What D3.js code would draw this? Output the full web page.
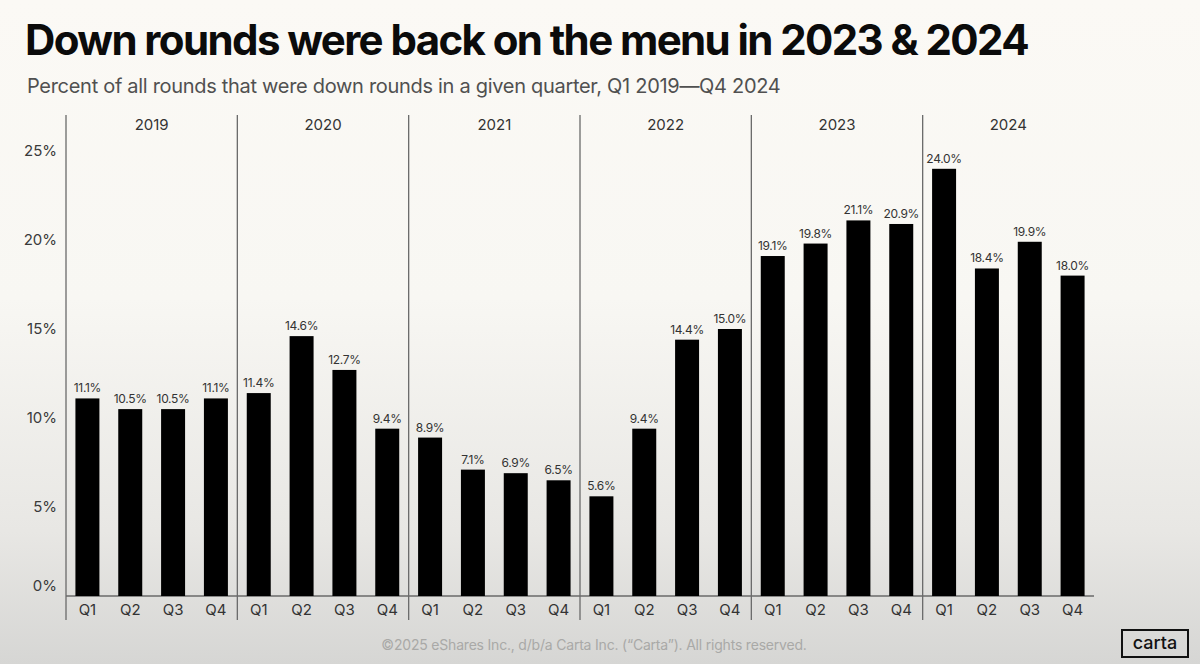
<!DOCTYPE html>
<html>
<head>
<meta charset="utf-8">
<script src="https://cdn.jsdelivr.net/npm/d3@7"></script>
<style>
  html, body { margin: 0; padding: 0; }
  body { width: 1200px; height: 664px; overflow: hidden; font-family: Inter, "Noto Sans", sans-serif; }
</style>
</head>
<body>
<svg id="chart" width="1200" height="664"></svg>
<script>
// data
var years = ['2019', '2020', '2021', '2022', '2023', '2024'];
var quarters = ['Q1', 'Q2', 'Q3', 'Q4'];
var values2019 = [11.1, 10.5, 10.5, 11.1];
var values2020 = [11.4, 14.6, 12.7, 9.4];
var values2021 = [8.9, 7.1, 6.9, 6.5];
var values2022 = [5.6, 9.4, 14.4, 15.0];
var values2023 = [19.1, 19.8, 21.1, 20.9];
var values2024 = [24.0, 18.4, 19.9, 18.0];
var yTicks = [0, 5, 10, 15, 20, 25];

var byYear = [values2019, values2020, values2021, values2022, values2023, values2024];
var rows = [];
years.forEach(function (y, i) {
	quarters.forEach(function (q, j) {
		rows.push({ year: y, quarter: q, key: y + q, value: byYear[i][j] });
	});
});

var svg = d3.select('#chart');

// background, a bit darker toward the bottom like the slide
var defs = svg.append('defs');
var grad = defs.append('linearGradient')
	.attr('id', 'bg')
	.attr('x1', 0).attr('y1', 0).attr('x2', 0).attr('y2', 1);
grad.append('stop').attr('offset', '0%').attr('stop-color', '#fbf9f5');
grad.append('stop').attr('offset', '45%').attr('stop-color', '#f8f7f3');
grad.append('stop').attr('offset', '80%').attr('stop-color', '#e8e7e4');
grad.append('stop').attr('offset', '100%').attr('stop-color', '#d6d6d4');
svg.append('rect')
	.attr('width', 1200).attr('height', 664)
	.attr('fill', 'url(#bg)');

svg.append('text')
	.attr('x', 25).attr('y', 55)
	.attr('font-size', 42)
	.attr('font-weight', 700)
	.attr('letter-spacing', -1.6)
	.attr('fill', '#0b0b0b')
	.text('Down rounds were back on the menu in 2023 & 2024');

svg.append('text')
	.attr('x', 27).attr('y', 93)
	.attr('font-size', 20)
	.attr('letter-spacing', -0.3)
	.attr('fill', '#505050')
	.text('Percent of all rounds that were down rounds in a given quarter, Q1 2019\u2014Q4 2024');

var plotLeft = 66, plotRight = 1094, plotTop = 115, base = 596;

var xYear = d3.scaleBand()
	.domain(years)
	.range([plotLeft, plotRight]);

var x = d3.scaleBand()
	.domain(rows.map(function (d) { return d.key; }))
	.range([plotLeft, plotRight])
	.paddingInner(0.44)
	.paddingOuter(0.22);

var y = d3.scaleLinear()
	.domain([0, 25])
	.range([base, base - 25 * 17.8]);

// y tick labels
var yAxis = svg.append('g')
	.attr('transform', 'translate(' + plotLeft + ',0)')
	.call(d3.axisLeft(y).tickValues(yTicks).tickSize(0).tickPadding(9)
		.tickFormat(function (d) { return d + '%'; }));
yAxis.select('.domain').remove();
yAxis.selectAll('text')
	.attr('font-family', 'Inter, "Noto Sans", sans-serif')
	.attr('font-size', 15)
	.attr('fill', '#3a3a3a')
	.attr('dy', function (d) { return d === 0 ? '-0.35em' : '0.32em'; });

// year separators
svg.append('g').selectAll('line')
	.data(years)
	.enter()
	.append('line')
	.attr('x1', function (d) { return xYear(d); })
	.attr('x2', function (d) { return xYear(d); })
	.attr('y1', plotTop)
	.attr('y2', 620)
	.attr('stroke', '#6a6a6a')
	.attr('stroke-width', 1.3);

// baseline
svg.append('line')
	.attr('x1', plotLeft).attr('x2', plotRight)
	.attr('y1', base).attr('y2', base)
	.attr('stroke', '#6a6a6a')
	.attr('stroke-width', 1.3);

svg.append('g').selectAll('text')
	.data(years)
	.enter()
	.append('text')
	.attr('x', function (d) { return xYear(d) + xYear.bandwidth() / 2; })
	.attr('y', 130)
	.attr('text-anchor', 'middle')
	.attr('font-size', 15)
	.attr('fill', '#333')
	.text(function (d) { return d; });

// bars
svg.append('g').selectAll('rect')
	.data(rows)
	.enter()
	.append('rect')
	.attr('x', function (d) { return x(d.key); })
	.attr('width', x.bandwidth())
	.attr('y', function (d) { return y(d.value); })
	.attr('height', function (d) { return base - y(d.value); })
	.attr('fill', '#000');

// value labels
svg.append('g').selectAll('text')
	.data(rows)
	.enter()
	.append('text')
	.attr('x', function (d) { return x(d.key) + x.bandwidth() / 2; })
	.attr('y', function (d) { return y(d.value) - 6; })
	.attr('text-anchor', 'middle')
	.attr('font-size', 12)
	.attr('letter-spacing', -0.3)
	.attr('fill', '#333')
	.text(function (d) { return d.value.toFixed(1) + '%'; });

// quarter labels
svg.append('g').selectAll('text')
	.data(rows)
	.enter()
	.append('text')
	.attr('x', function (d) { return x(d.key) + x.bandwidth() / 2; })
	.attr('y', 615)
	.attr('text-anchor', 'middle')
	.attr('font-size', 15)
	.attr('fill', '#333')
	.text(function (d) { return d.quarter; });

svg.append('text')
	.attr('x', 594).attr('y', 650)
	.attr('text-anchor', 'middle')
	.attr('font-size', 14)
	.attr('letter-spacing', -0.2)
	.attr('fill', '#a9a9a7')
	.text('\u00a92025 eShares Inc., d/b/a Carta Inc. (\u201cCarta\u201d). All rights reserved.');

// logo
svg.append('rect')
	.attr('x', 1122).attr('y', 630)
	.attr('width', 66).attr('height', 27)
	.attr('fill', 'none')
	.attr('stroke', '#111')
	.attr('stroke-width', 2);
svg.append('text')
	.attr('x', 1155).attr('y', 649)
	.attr('text-anchor', 'middle')
	.attr('font-size', 18)
	.attr('font-weight', 500)
	.attr('fill', '#111')
	.text('carta');
</script>
</body>
</html>
